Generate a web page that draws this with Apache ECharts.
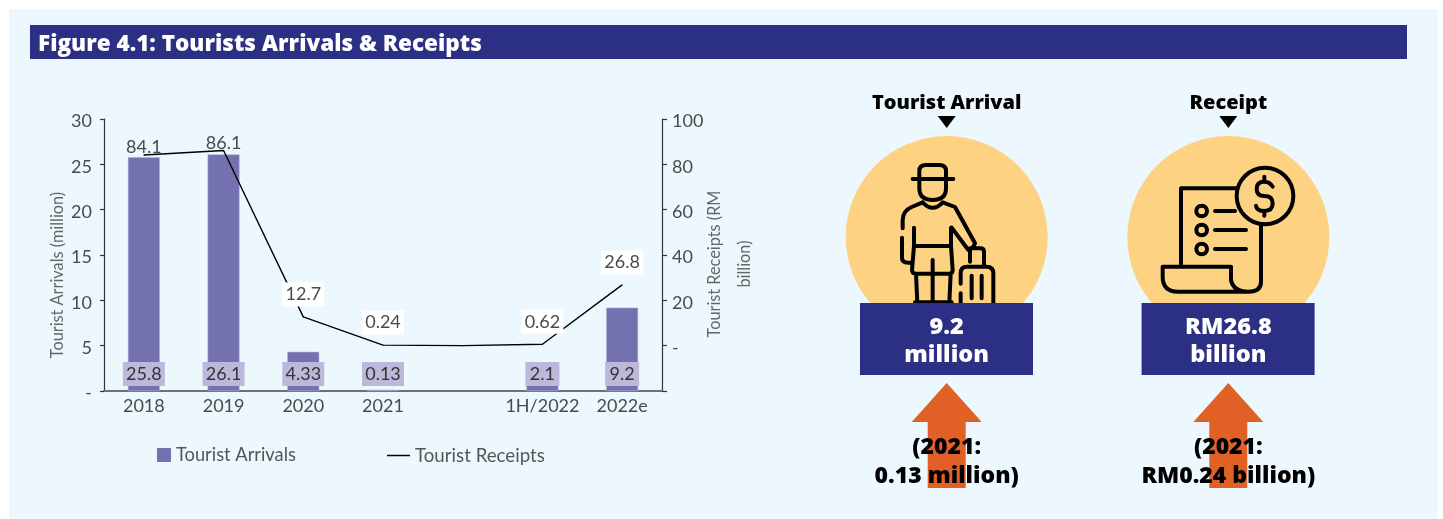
<!DOCTYPE html>
<html>
<head>
<meta charset="utf-8">
<title>Tourists Arrivals & Receipts</title>
<script src="https://cdn.jsdelivr.net/npm/echarts@6/dist/echarts.min.js"></script>
<style>
  html, body { margin: 0; padding: 0; background: #ffffff; }
  #chart { width: 1443px; height: 519px; }
</style>
</head>
<body>
<div id="chart"></div>
<script>
// Chart data
const categories = ['2018', '2019', '2020', '2021', '', '1H/2022', '2022e'];
const arrivals = [25.8, 26.1, 4.33, 0.13, null, 2.1, 9.2];
const receipts = [84.1, 86.1, 12.7, 0.24, 0, 0.62, 26.8];
const receiptLabels = ['84.1', '86.1', '12.7', '0.24', '', '0.62', '26.8'];
const plainLabelIndexes = [0, 1];
const narrowLabelIndexes = [5, 6];

// Panel wording
const titleText = 'Figure 4.1: Tourists Arrivals & Receipts';
const arrivalCard = { heading: 'Tourist Arrival', value: '9.2', unit: 'million', prior: '(2021:', priorValue: '0.13 million)' };
const receiptCard = { heading: 'Receipt', value: 'RM26.8', unit: 'billion', prior: '(2021:', priorValue: 'RM0.24 billion)' };

const FONT = 'Lato';
const HEAVY_FONT = '"Open Sans"';
const NAVY = '#2c3085';
const TEXT = '#4a4a4a';

// Traveller pictogram, in a 3x local coordinate space
const travellerPath = [
  'M218 282H340',
  'M238 282V258Q238 240 258 240H298Q318 240 318 258V282',
  'M238 282V310Q238 345 278 345Q318 345 318 310V282',
  'M248 352L215 366Q188 378 188 405V430',
  'M186 458V518Q186 533 205 533H218',
  'M248 352Q278 385 308 352L345 366L405 475Q400 490 385 495L335 428',
  'M222 428V483H333V428',
  'M222 483L216 555Q216 566 228 566H328Q338 566 338 555L333 483',
  'M278 525V660',
  'M228 566L232 655',
  'M332 566L328 655',
  'M225 652H335',
  'M390 530V490H420Q432 490 432 500V545',
  'M362 596V565Q362 545 380 545H440Q460 545 460 565V660',
  'M362 625V660',
  'M395 572V640',
  'M425 572V640'
].join('');

// Receipt pictogram, in the same kind of local space
const receiptPath = [
  'M183 540V310H350',
  'M423 420V590Q423 620 385 620Q340 620 333 585V545H128V575Q128 620 175 620H385',
  'M285 378H345',
  'M285 435H378',
  'M285 492H378',
  'M458 305Q450 290 433 290Q410 290 410 312Q410 333 433 333Q458 333 458 355Q458 378 433 378Q410 378 408 362',
  'M433 275V290',
  'M433 378V392'
].join('');
const receiptRings = [[245, 378, 16], [245, 435, 16], [245, 492, 16], [435, 333, 85]];

echarts.graphic.registerShape('travellerGlyph', echarts.graphic.extendPath(travellerPath, {}));
echarts.graphic.registerShape('receiptGlyph', echarts.graphic.extendPath(receiptPath, {}));

function strokeStyle() {
  return { fill: 'none', stroke: '#000000', lineWidth: 12, lineCap: 'round', lineJoin: 'round' };
}

function label(text, x, y, size, color) {
  return {
    type: 'text', x: x, y: y,
    style: { text: text, font: '800 ' + size + 'px ' + HEAVY_FONT, fill: color, align: 'center', verticalAlign: 'middle' }
  };
}

function card(cx, info, glyph) {
  return [
    label(info.heading, cx, 103, 20, '#000000'),
    { type: 'polygon', shape: { points: [[cx - 9, 116], [cx + 9, 116], [cx, 128]] }, style: { fill: '#000000' } },
    { type: 'circle', shape: { cx: cx, cy: 237, r: 101 }, style: { fill: '#fed283' } },
    glyph,
    { type: 'rect', shape: { x: cx - 86.7, y: 303, width: 173, height: 72 }, style: { fill: NAVY } },
    label(info.value, cx, 327, 23.5, '#ffffff'),
    label(info.unit, cx, 355, 23.5, '#ffffff'),
    {
      type: 'polygon',
      shape: { points: [[cx, 383], [cx + 35, 422], [cx + 19, 422], [cx + 19, 488], [cx - 19, 488], [cx - 19, 422], [cx - 35, 422]] },
      style: { fill: '#e06026' }
    },
    label(info.prior, cx, 447, 23, '#000000'),
    label(info.priorValue, cx, 476, 23, '#000000')
  ];
}

const travellerGlyph = {
  type: 'group', x: 840, y: 85, scaleX: 1 / 3, scaleY: 1 / 3,
  children: [{ type: 'travellerGlyph', shape: {}, style: strokeStyle() }]
};

const receiptGlyph = {
  type: 'group', x: 1120, y: 85, scaleX: 1 / 3, scaleY: 1 / 3,
  children: receiptRings
    .map(r => ({ type: 'circle', shape: { cx: r[0], cy: r[1], r: r[2] }, style: strokeStyle() }))
    .concat([{ type: 'receiptGlyph', shape: {}, style: strokeStyle() }])
};

// Value-axis labels sit slightly below their ticks, and zero reads as a dash
const tickText = v => '{t|' + (v === 0 ? '-' : String(v)) + '}';
const tickRich = { t: { color: TEXT, fontSize: 18, fontWeight: 400, fontFamily: FONT, padding: [5, 0, 0, 0] } };

const option = {
  animation: false,
  textStyle: { fontFamily: FONT },
  graphic: {
    elements: [
      { type: 'rect', shape: { x: 9, y: 9, width: 1429, height: 510 }, style: { fill: '#edf8fe' } },
      { type: 'rect', shape: { x: 30, y: 25, width: 1377, height: 34 }, style: { fill: NAVY } },
      {
        type: 'text', x: 38, y: 45,
        style: { text: titleText, font: '800 22.5px ' + HEAVY_FONT, fill: '#ffffff', align: 'left', verticalAlign: 'middle' }
      }
    ].concat(card(946.7, arrivalCard, travellerGlyph), card(1228.3, receiptCard, receiptGlyph))
  },
  legend: [
    {
      data: ['Tourist Arrivals'], left: 152, top: 441, itemWidth: 14, itemHeight: 14, itemGap: 0,
      icon: 'rect', itemStyle: { borderWidth: 0 },
      textStyle: { color: '#555555', fontSize: 18.3, fontWeight: 400, fontFamily: FONT }
    },
    {
      data: ['Tourist Receipts'], left: 382, top: 441, itemWidth: 23, itemHeight: 1.5, itemGap: 0,
      icon: 'rect', itemStyle: { color: '#000000', borderWidth: 0 },
      textStyle: { color: '#555555', fontSize: 18.7, fontWeight: 400, fontFamily: FONT }
    }
  ],
  grid: { left: 104, right: 781, top: 119, bottom: 128 },
  xAxis: {
    type: 'category',
    data: categories,
    axisTick: { show: false },
    axisLine: { lineStyle: { color: '#707070', width: 2 } },
    axisLabel: { color: TEXT, fontSize: 18, fontWeight: 400, margin: 6, interval: 0 }
  },
  yAxis: [
    {
      type: 'value', min: 0, max: 30, interval: 5,
      name: 'Tourist Arrivals (million)', nameLocation: 'middle', nameGap: 38, nameMoveOverlap: false,
      nameTextStyle: { color: '#666666', fontSize: 16.3, fontWeight: 400, padding: [0, 40, 0, 0] },
      axisLine: { show: true, onZero: false, lineStyle: { color: '#333333', width: 1.2 } },
      axisTick: { show: true, length: 4, lineStyle: { color: '#333333', width: 1.2 } },
      splitLine: { show: false },
      axisLabel: { margin: 12, formatter: tickText, rich: tickRich }
    },
    {
      type: 'value', min: -20, max: 100, interval: 20, position: 'right',
      name: 'Tourist Receipts (RM\nbillion)', nameLocation: 'middle', nameGap: 38, nameRotate: 90, nameMoveOverlap: false,
      nameTextStyle: { color: '#666666', fontSize: 16.3, fontWeight: 400, lineHeight: 30, align: 'center', padding: [0, 18, 0, 0] },
      axisLine: { show: true, onZero: false, lineStyle: { color: '#333333', width: 1.2 } },
      axisTick: { show: true, length: 5, lineStyle: { color: '#333333', width: 1.2 } },
      splitLine: { show: false },
      axisLabel: { margin: 10, formatter: v => (v < 0 ? '' : tickText(v)), rich: tickRich }
    }
  ],
  series: [
    {
      name: 'Tourist Arrivals', type: 'bar', barWidth: 32, yAxisIndex: 0,
      data: arrivals.map((v, i) => (narrowLabelIndexes.includes(i) ? { value: v, label: { width: 34 } } : { value: v })),
      itemStyle: { color: '#7471b0', borderColor: '#b3b1d6', borderWidth: 0.6 },
      label: {
        show: true, position: 'insideBottom', distance: 5,
        width: 42, height: 24, lineHeight: 24,
        backgroundColor: '#bbb8da', color: '#333333', fontSize: 18, fontWeight: 400, fontFamily: FONT
      }
    },
    {
      name: 'Tourist Receipts', type: 'line', yAxisIndex: 1,
      data: receipts.map((v, i) => ({
        value: v,
        label: receiptLabels[i] === ''
          ? { show: false }
          : plainLabelIndexes.includes(i)
            ? { show: true, formatter: receiptLabels[i], distance: -5, backgroundColor: 'transparent' }
            : { show: true, formatter: receiptLabels[i] }
      })),
      symbol: 'circle', symbolSize: 1,
      itemStyle: { color: '#000000' },
      lineStyle: { color: '#000000', width: 1.4 },
      label: {
        show: true, position: 'top', distance: 10,
        width: 42, height: 24, lineHeight: 24,
        backgroundColor: '#ffffff', color: TEXT, fontSize: 18, fontWeight: 400, fontFamily: FONT
      }
    }
  ]
};

const chart = echarts.init(document.getElementById('chart'), null, { renderer: 'canvas' });
chart.setOption(option);
</script>
</body>
</html>
